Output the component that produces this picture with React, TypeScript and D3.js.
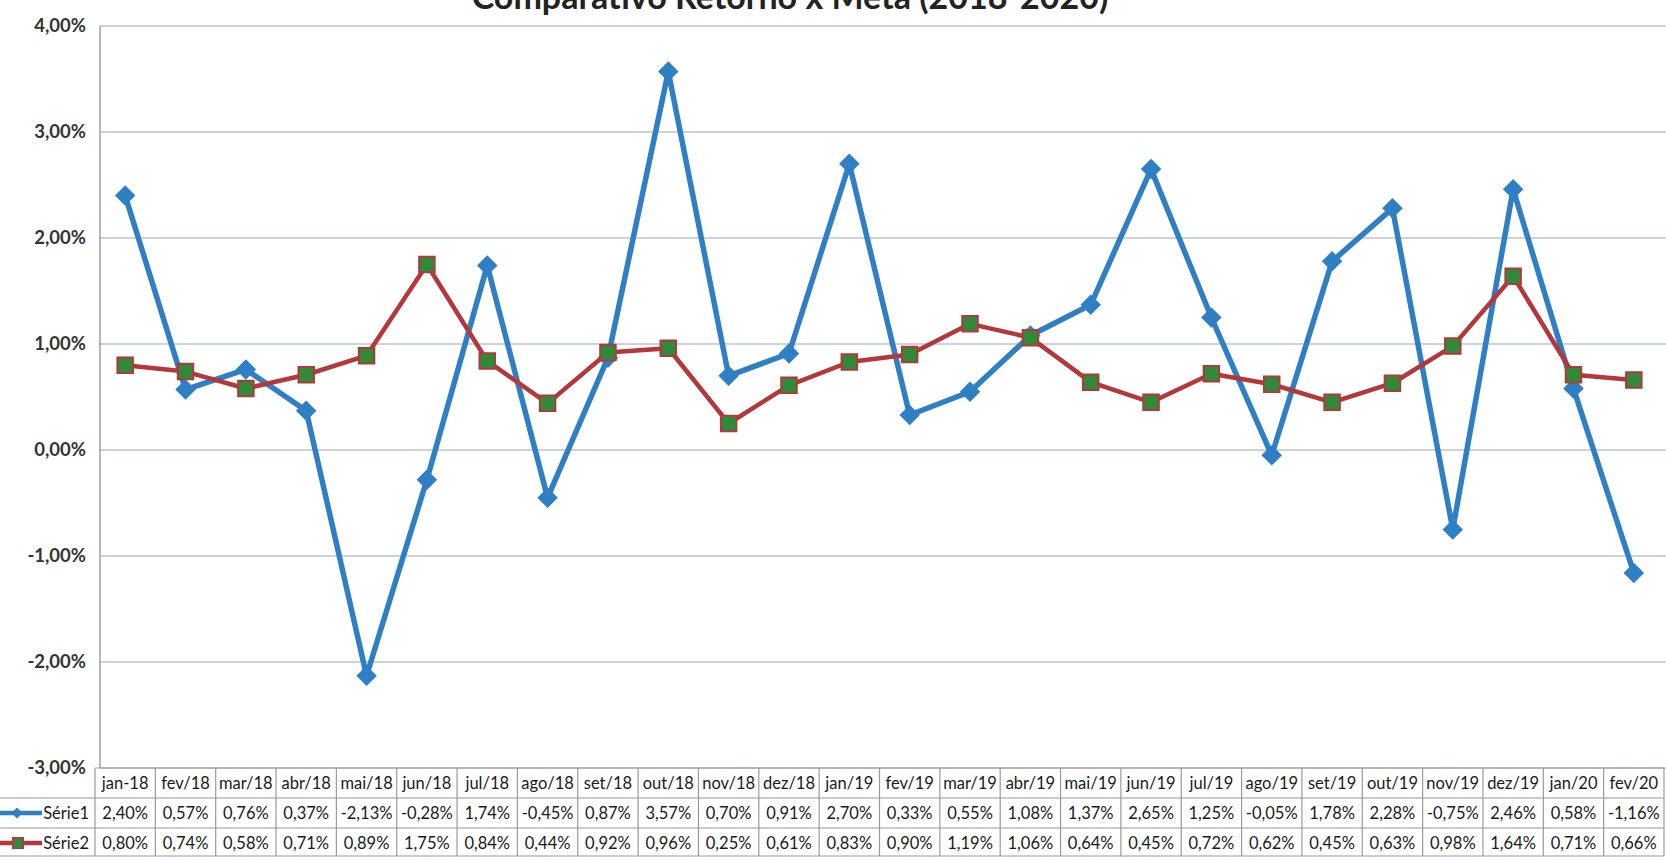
import * as d3 from "d3";
import React from "react";

const months = [
  "jan-18", "fev/18", "mar/18", "abr/18", "mai/18", "jun/18", "jul/18", "ago/18", "set/18",
  "out/18", "nov/18", "dez/18", "jan/19", "fev/19", "mar/19", "abr/19", "mai/19", "jun/19",
  "jul/19", "ago/19", "set/19", "out/19", "nov/19", "dez/19", "jan/20", "fev/20",
];
const serie1 = [
  2.4, 0.57, 0.76, 0.37, -2.13, -0.28, 1.74, -0.45, 0.87, 3.57, 0.7, 0.91, 2.7, 0.33, 0.55,
  1.08, 1.37, 2.65, 1.25, -0.05, 1.78, 2.28, -0.75, 2.46, 0.58, -1.16,
];
const serie2 = [
  0.8, 0.74, 0.58, 0.71, 0.89, 1.75, 0.84, 0.44, 0.92, 0.96, 0.25, 0.61, 0.83, 0.9, 1.19,
  1.06, 0.64, 0.45, 0.72, 0.62, 0.45, 0.63, 0.98, 1.64, 0.71, 0.66,
];
const yTicks = [4, 3, 2, 1, 0, -1, -2, -3];
const seriesNames = ["Série1", "Série2"];
const title = "Comparativo Retorno x Meta (2018-2020)";

const W = 1666;
const H = 862;
const tableLeft = 95;
const tableRight = 1664;
const plotTop = 26;
const plotBottom = 768;
const rowH = 30;

const blue = "#2f7fc4";
const red = "#b4373b";
const green = "#2f8a3a";
const grid = "#9ea3bf";
const font = "Lato, 'Open Sans', sans-serif";

const pct = (v: number) => v.toFixed(2).replace(".", ",") + "%";

export default function App() {
  const x = d3.scaleBand<string>().domain(months).range([tableLeft, tableRight]);
  const y = d3.scaleLinear().domain([-3, 4]).range([plotBottom, plotTop]);
  const cx = (m: string) => (x(m) as number) + x.bandwidth() / 2;

  const line = d3
    .line<number>()
    .x((_, i) => cx(months[i]))
    .y((d) => y(d));

  // excel style markers: square, and square turned 45deg for the diamond
  const square = d3.symbol().type(d3.symbolSquare).size(240)() as string;
  const diamond = d3.symbol().type(d3.symbolSquare).size(210)() as string;
  const smallSquare = d3.symbol().type(d3.symbolSquare).size(110)() as string;
  const smallDiamond = d3.symbol().type(d3.symbolSquare).size(60)() as string;

  const rows = [plotBottom, plotBottom + rowH, plotBottom + 2 * rowH, plotBottom + 3 * rowH - 2];

  return (
    <div style={{ position: "absolute", left: 0, top: 0 }}>
      <style>{"body{margin:0}"}</style>
      <svg width={W} height={H} style={{ display: "block", background: "#fff" }}>
        <text
          x={790}
          y={9}
          textAnchor="middle"
          fontFamily={font}
          fontWeight={700}
          fontSize={34}
          fill="#222"
        >
          {title}
        </text>

        {/* gridlines */}
        {yTicks.map((t) => (
          <line key={t} x1={100} x2={W} y1={y(t)} y2={y(t)} stroke={grid} strokeWidth={1.2} />
        ))}
        <line x1={100} x2={100} y1={plotTop} y2={plotBottom} stroke="#888" strokeWidth={1.2} />

        {/* y labels */}
        {yTicks.map((t) => (
          <text
            key={"l" + t}
            x={86}
            y={y(t) + 6}
            textAnchor="end"
            fontFamily={font}
            fontWeight={700}
            fontSize={18.5}
            fill="#333"
          >
            {pct(t)}
          </text>
        ))}

        {/* series 1 */}
        <path d={line(serie1) as string} fill="none" stroke={blue} strokeWidth={5.5} strokeLinejoin="round" />
        {serie1.map((v, i) => (
          <path
            key={"d" + i}
            d={diamond}
            transform={`translate(${cx(months[i])},${y(v)}) rotate(45)`}
            fill={blue}
          />
        ))}

        {/* series 2 */}
        <path d={line(serie2) as string} fill="none" stroke={red} strokeWidth={4.5} strokeLinejoin="round" />
        {serie2.map((v, i) => (
          <path
            key={"s" + i}
            d={square}
            transform={`translate(${cx(months[i])},${y(v)})`}
            fill={green}
            stroke={red}
            strokeWidth={2}
          />
        ))}

        {/* data table */}
        <g stroke="#9a9a9a" strokeWidth={1.2}>
          <line x1={tableLeft} x2={tableRight} y1={rows[0]} y2={rows[0]} />
          <line x1={0} x2={tableRight} y1={rows[1]} y2={rows[1]} />
          <line x1={0} x2={tableRight} y1={rows[2]} y2={rows[2]} />
          <line x1={0} x2={tableRight} y1={rows[3]} y2={rows[3]} />
          {months.map((m) => (
            <line key={"v" + m} x1={x(m)} x2={x(m)} y1={rows[0]} y2={rows[3]} />
          ))}
          <line x1={tableRight} x2={tableRight} y1={rows[0]} y2={rows[3]} />
        </g>
        {months.map((m, i) => (
          <g key={"t" + m} fontFamily={font} fontSize={16.5} fill="#1a1a1a" textAnchor="middle">
            <text x={cx(m)} y={rows[0] + 21}>{m}</text>
            <text x={cx(m)} y={rows[1] + 21}>{pct(serie1[i])}</text>
            <text x={cx(m)} y={rows[2] + 21}>{pct(serie2[i])}</text>
          </g>
        ))}

        {/* legend keys */}
        <line x1={0} x2={42} y1={rows[1] + 15} y2={rows[1] + 15} stroke={blue} strokeWidth={4.5} />
        <path d={smallDiamond} transform={`translate(17,${rows[1] + 15}) rotate(45)`} fill={blue} />
        <line x1={0} x2={42} y1={rows[2] + 15} y2={rows[2] + 15} stroke={red} strokeWidth={4.5} />
        <path d={smallSquare} transform={`translate(18,${rows[2] + 15})`} fill={green} stroke={red} strokeWidth={1.5} />
        {seriesNames.map((n, i) => (
          <text
            key={n}
            x={89}
            y={rows[i + 1] + 21}
            textAnchor="end"
            fontFamily={font}
            fontSize={16.5}
            fill="#1a1a1a"
          >
            {n}
          </text>
        ))}
      </svg>
    </div>
  );
}
